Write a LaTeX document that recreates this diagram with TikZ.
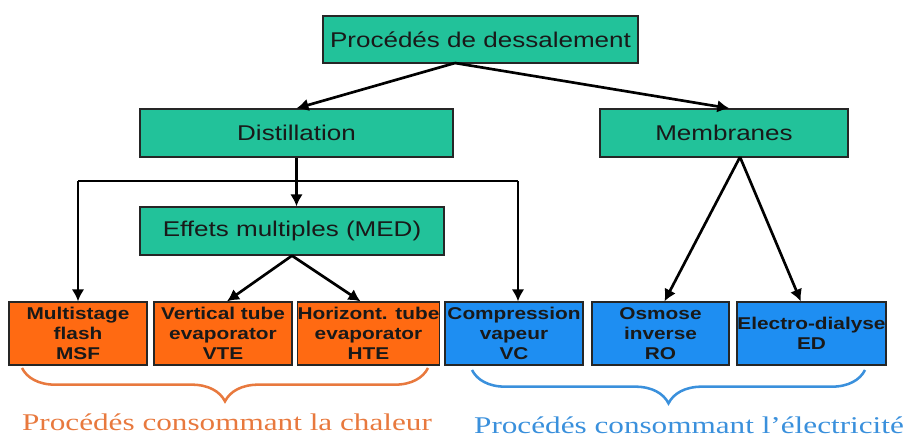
\documentclass[tikz,border=0pt]{standalone}
\usepackage{fontspec}
\setmainfont{Liberation Serif}
\setsansfont{Liberation Sans}
\newfontfamily\boxfont[FakeStretch=1.22]{Liberation Sans}
\newfontfamily\bracefont[FakeStretch=1.3]{Liberation Serif}
\usetikzlibrary{arrows.meta,decorations.pathreplacing}
\definecolor{ColorTeal}{HTML}{22C29A}
\definecolor{ColorHeat}{HTML}{FF6A12}
\definecolor{ColorElec}{HTML}{1E8EF2}
\definecolor{ColorHeatText}{HTML}{E8793E}
\definecolor{ColorElecText}{HTML}{3A90DC}
\tikzset{
    topbox/.style={draw=black!85, line width=1pt, fill=ColorTeal, inner sep=0pt,
        text=black!90, font=\boxfont\fontsize{16}{19}\selectfont},
    lowbox/.style={draw=black!85, line width=1pt, inner sep=0pt, minimum height=47.25pt,
        align=center, text=black!90, font=\boxfont\bfseries\fontsize{12.8}{15}\selectfont},
    link/.style={->, line width=2pt},
    bracket/.style={line width=1.9pt, decorate, decoration={brace, mirror, amplitude=25pt}}
}

\begin{document}
\begin{tikzpicture}[x=0.75pt, y=-0.75pt, >={Latex[length=9pt,width=9.5pt]}]
    \useasboundingbox (0,0) rectangle (910,437);
    % upper levels
    \node[topbox, minimum width=236.25pt, minimum height=35.25pt] (root) at (480.5,39.5) {Procédés de dessalement};
    \node[topbox, minimum width=234.75pt, minimum height=36pt] (dist) at (296.5,133) {Distillation};
    \node[topbox, minimum width=186pt, minimum height=36pt] (memb) at (724,133) {Membranes};
    \node[topbox, minimum width=228pt, minimum height=36pt] (med) at (292,231) {Effets multiples (MED)};
    % lower level
    \foreach \name/\cx/\w/\col/\txt in {msf/78/103.5/ColorHeat/{Multistage\\flash\\MSF},
                                        vte/223/103.5/ColorHeat/{Vertical tube\\evaporator\\VTE},
                                        hte/368.5/102.75/ColorHeat/{Horizont. tube\\evaporator\\HTE},
                                        vc/514/103.5/ColorElec/{Compression\\vapeur\\VC},
                                        ro/660.5/102.75/ColorElec/{Osmose\\inverse\\RO},
                                        ed/811.5/111.75/ColorElec/{Electro-dialyse\\ED}} {
        \node[lowbox, fill=\col, minimum width=\w pt] (\name) at (\cx,333.5) {\txt};
    }
    % connectors
    \coordinate (rootfork) at (455,63);
    \coordinate (membfork) at (740,157);
    \draw[link] (rootfork) -- (dist.north);
    \draw[link] (rootfork) -- ([xshift=4pt]memb.north);
    \draw[link] (dist.south) -- (dist.south |- med.north);
    \draw[line width=2pt] (78,181) coordinate (splitl) -- (518,181) coordinate (splitr);
    \draw[link] (splitl) -- (msf.north);
    \draw[link] (splitr) -- (splitr |- vc.north);
    \draw[link] (med.south) -- ([xshift=3pt]vte.north);
    \draw[link] (med.south) -- ([xshift=-6pt]hte.north);
    \draw[link] (membfork) -- ([xshift=3pt]ro.north);
    \draw[link] (membfork) -- ([xshift=-8pt]ed.north);
    % braces and captions
    \draw[bracket, ColorHeatText] (22,368) -- (428,368);
    \draw[bracket, ColorElecText] (472,370) -- (865,370);
    \node[text=ColorHeatText, font=\bracefont\fontsize{18}{21}\selectfont] (heat) at (227,422) {Procédés consommant la chaleur};
    \node[text=ColorElecText, font=\bracefont\fontsize{18}{21}\selectfont] (elec) at (689,425) {Procédés consommant l’électricité};
\end{tikzpicture}
\end{document}
